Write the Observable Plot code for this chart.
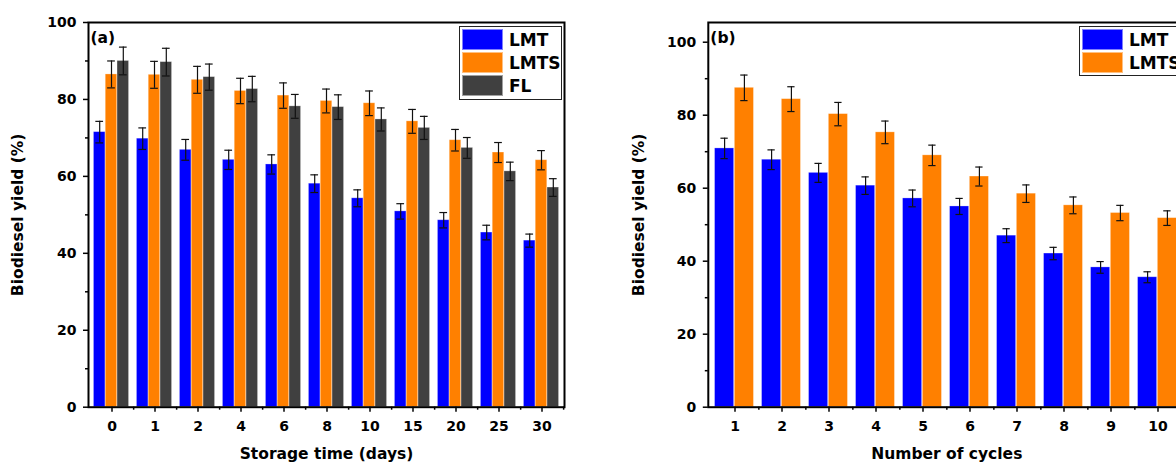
<!DOCTYPE html>
<html>
<head>
<meta charset="utf-8">
<script src="https://cdn.jsdelivr.net/npm/d3@7"></script>
<script src="https://cdn.jsdelivr.net/npm/@observablehq/plot@0.6"></script>
<style>
  html, body { margin: 0; padding: 0; background: #fff; }
  #wrap { position: relative; width: 1176px; height: 462px; overflow: hidden; }
  .panel { position: absolute; top: 0; }
  .legend { position: absolute; border: 1.5px solid #222; background: #fff; box-sizing: border-box; padding: 2px 0 0 2px;
            font-family: "DejaVu Sans", sans-serif; font-weight: bold; font-size: 17px; color: #000; }
  .legend .row { display: flex; align-items: center; height: 21px; margin-bottom: 2px; white-space: nowrap; }
  .legend .sw { width: 41px; height: 21px; margin-right: 6px; box-sizing: border-box; border: 1px solid rgba(255,255,255,0.5); flex: none; }
</style>
</head>
<body>
<div id="wrap"></div>
<script>
// ---------- data ----------
const storageDays = ["0", "1", "2", "4", "6", "8", "10", "15", "20", "25", "30"];
const lmtStorage      = [71.5, 69.8, 66.9, 64.3, 63.1, 58.1, 54.3, 50.9, 48.6, 45.4, 43.3];
const lmtStorageErr   = [2.8, 2.8, 2.7, 2.5, 2.5, 2.3, 2.2, 2.0, 2.0, 1.9, 1.7];
const lmtsStorage     = [86.5, 86.4, 85.1, 82.2, 81.0, 79.6, 79.0, 74.3, 69.4, 66.2, 64.2];
const lmtsStorageErr  = [3.5, 3.5, 3.5, 3.3, 3.3, 3.1, 3.2, 3.1, 2.8, 2.6, 2.5];
const flStorage       = [90.0, 89.7, 85.8, 82.7, 78.2, 78.0, 74.8, 72.6, 67.4, 61.3, 57.1];
const flStorageErr    = [3.6, 3.6, 3.4, 3.3, 3.1, 3.2, 3.0, 3.0, 2.7, 2.4, 2.3];

const cycles          = ["1", "2", "3", "4", "5", "6", "7", "8", "9", "10"];
const lmtCycles       = [70.9, 67.8, 64.2, 60.7, 57.2, 55.0, 47.0, 42.1, 38.3, 35.6];
const lmtCyclesErr    = [2.8, 2.7, 2.6, 2.4, 2.3, 2.2, 1.9, 1.7, 1.6, 1.5];
const lmtsCycles      = [87.5, 84.4, 80.3, 75.3, 69.0, 63.2, 58.5, 55.3, 53.2, 51.8];
const lmtsCyclesErr   = [3.5, 3.4, 3.2, 3.1, 2.8, 2.6, 2.4, 2.3, 2.1, 2.0];

const yMajor = [0, 20, 40, 60, 80, 100];
const yMinor = [10, 30, 50, 70, 90];

const seriesNames = ["LMT", "LMTS", "FL"];
const seriesColors = ["#0000ff", "#ff8000", "#404040"];

// ---------- panel builder ----------
function panel({cats, series, yMax, width, ml, mr, barW, xLabel, tag, yLabelDx}) {
  const mt = 22, mb = 55.3, height = 462;
  const bw = (width - ml - mr) / cats.length;
  const k = series.length;
  const marks = [];
  series.forEach((s, i) => {
    const rows = cats.map((c, j) => ({cat: c, v: s.values[j], e: s.err[j]}));
    const dx = (i - (k - 1) / 2) * barW - 0.5;
    const inset = (bw - barW) / 2;
    const capInset = (bw - 8) / 2;
    marks.push(Plot.barY(rows, {x: "cat", y: "v", fill: s.color, insetLeft: inset, insetRight: inset, dx,
                                stroke: "#ffffff", strokeOpacity: 0.35, strokeWidth: 0.8}));
    marks.push(Plot.ruleX(rows, {x: "cat", y1: d => d.v - d.e, y2: d => d.v + d.e, dx, stroke: "#111", strokeWidth: 1.2}));
    marks.push(Plot.tickY(rows, {x: "cat", y: d => d.v - d.e, dx, insetLeft: capInset, insetRight: capInset, stroke: "#111", strokeWidth: 1.2}));
    marks.push(Plot.tickY(rows, {x: "cat", y: d => d.v + d.e, dx, insetLeft: capInset, insetRight: capInset, stroke: "#111", strokeWidth: 1.2}));
  });
  marks.push(Plot.frame({stroke: "#000", strokeWidth: 2}));
  marks.push(Plot.axisY({ticks: yMajor, tickSize: 5, tickPadding: 7, fontSize: 14, fontWeight: "bold", label: null, strokeWidth: 1.5}));
  marks.push(Plot.axisY({ticks: yMinor, tickSize: 3, text: null, label: null, strokeWidth: 1.5}));
  marks.push(Plot.axisX({tickSize: 5, tickPadding: 9, fontSize: 14, fontWeight: "bold", label: null, strokeWidth: 1.5}));
  marks.push(Plot.axisX({tickSize: 3, text: null, label: null, dx: bw / 2, strokeWidth: 1.5}));
  marks.push(Plot.text(["Biodiesel yield (%)"], {text: d => d, frameAnchor: "left", dx: yLabelDx, rotate: -90,
                        textAnchor: "middle", lineAnchor: "middle", fontSize: 15.5, fontWeight: "bold", fill: "#000"}));
  marks.push(Plot.text([xLabel], {text: d => d, frameAnchor: "bottom", dy: 47, textAnchor: "middle",
                        lineAnchor: "middle", fontSize: 15.5, fontWeight: "bold", fill: "#000"}));
  marks.push(Plot.text([tag], {text: d => d, frameAnchor: "top-left", dx: 2, dy: 16, textAnchor: "start",
                        lineAnchor: "middle", fontSize: 15.5, fontWeight: "bold", fill: "#000"}));
  return Plot.plot({
    width, height, marginLeft: ml, marginRight: mr, marginTop: mt, marginBottom: mb,
    style: {fontFamily: "'DejaVu Sans', sans-serif", color: "#000", background: "transparent", overflow: "visible"},
    x: {type: "band", domain: cats, padding: 0, axis: null},
    y: {domain: [0, yMax], axis: null},
    marks
  });
}

function legend(names, colors, left, top, w, h) {
  const div = document.createElement("div");
  div.className = "legend";
  div.style.left = left + "px"; div.style.top = top + "px";
  div.style.width = w + "px"; div.style.height = h + "px";
  names.forEach((n, i) => {
    const row = document.createElement("div"); row.className = "row";
    const sw = document.createElement("div"); sw.className = "sw"; sw.style.background = colors[i];
    const t = document.createElement("span"); t.textContent = n;
    row.appendChild(sw); row.appendChild(t); div.appendChild(row);
  });
  return div;
}

const wrap = document.getElementById("wrap");

const pa = panel({
  cats: storageDays,
  series: [
    {values: lmtStorage, err: lmtStorageErr, color: seriesColors[0]},
    {values: lmtsStorage, err: lmtsStorageErr, color: seriesColors[1]},
    {values: flStorage, err: flStorageErr, color: seriesColors[2]}
  ],
  yMax: 100, width: 600, ml: 88, mr: 36, barW: 11.8,
  xLabel: "Storage time (days)", tag: "(a)", yLabelDx: -70
});
pa.classList.add("panel"); pa.style.left = "0px";
wrap.appendChild(pa);

const pb = panel({
  cats: cycles,
  series: [
    {values: lmtCycles, err: lmtCyclesErr, color: seriesColors[0]},
    {values: lmtsCycles, err: lmtsCyclesErr, color: seriesColors[1]}
  ],
  yMax: 105.4, width: 600, ml: 107.8, mr: 15.2, barW: 19.8,
  xLabel: "Number of cycles", tag: "(b)", yLabelDx: -69
});
pb.classList.add("panel"); pb.style.left = "600px";
wrap.appendChild(pb);

wrap.appendChild(legend(seriesNames, seriesColors, 459, 26, 103, 73.5));
wrap.appendChild(legend(seriesNames.slice(0, 2), seriesColors.slice(0, 2), 1079, 26, 103, 50));
</script>
</body>
</html>
